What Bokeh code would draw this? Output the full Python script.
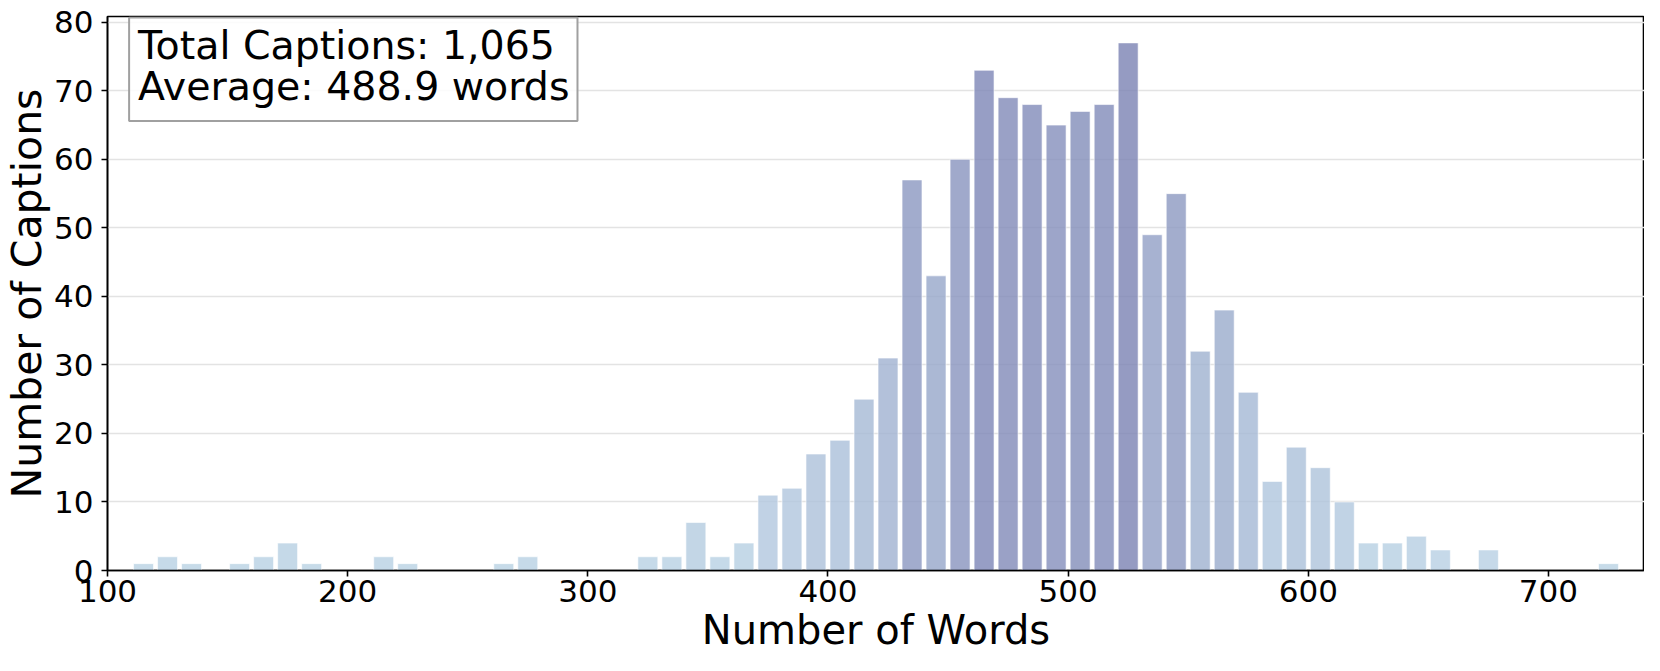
from bokeh.plotting import figure
from bokeh.models import ColumnDataSource, Range1d, Label, FixedTicker
from bokeh.embed import file_html
from bokeh.resources import INLINE

# ---- data ----
bin_left = list(range(110, 730, 10))       # bin edges (width 10 words)
bin_width = 10
counts = [1, 2, 1, 0, 1, 2, 4, 1, 0, 0,
          2, 1, 0, 0, 0, 1, 2, 0, 0, 0,
          0, 2, 2, 7, 2, 4, 11, 12, 17, 19,
          25, 31, 57, 43, 60, 73, 69, 68, 65, 67,
          68, 77, 49, 55, 32, 38, 26, 13, 18, 15,
          10, 4, 4, 5, 3, 0, 3, 0, 0, 0,
          0, 1]
x_ticks = [100, 200, 300, 400, 500, 600, 700]
y_ticks = [0, 10, 20, 30, 40, 50, 60, 70, 80]
total_captions = "1,065"
average_words = "488.9"

# ---- colours: height-mapped gradient (light blue -> slate purple) ----
low = (186, 211, 229)
high = (122, 130, 179)
vmax = max(counts)
def cmap(v):
    f = v / vmax
    r, g, b = (int(round(low[i] + (high[i] - low[i]) * f)) for i in range(3))
    return "#%02x%02x%02x" % (r, g, b)

centers = [b + bin_width / 2 for b in bin_left]
colors = [cmap(c) for c in counts]
src = ColumnDataSource(dict(x=centers, top=counts, color=colors))

FONT = "DejaVu Sans"

p = figure(width=1644, height=655, output_backend="svg", toolbar_location=None,
           x_range=Range1d(100, 740), y_range=Range1d(0, 80.85),
           min_border_left=90, min_border_right=0, min_border_top=16, min_border_bottom=80)

p.vbar(x="x", top="top", bottom=0, width=8.3, source=src,
       fill_color="color", fill_alpha=0.8,
       line_color="white", line_width=1, line_alpha=0.6)

p.outline_line_color = "black"
p.outline_line_width = 1.6
p.background_fill_color = "white"
p.border_fill_color = "white"

p.xgrid.visible = False
p.ygrid.grid_line_color = "#e3e3e3"
p.ygrid.grid_line_width = 1.5
p.ygrid.ticker = FixedTicker(ticks=y_ticks)

for ax, ticks in ((p.xaxis[0], x_ticks), (p.yaxis[0], y_ticks)):
    ax.ticker = FixedTicker(ticks=ticks)
    ax.minor_tick_line_color = None
    ax.major_tick_in = 0
    ax.major_tick_out = 6
    ax.major_tick_line_width = 1.6
    ax.major_tick_line_color = "black"
    ax.axis_line_width = 1.6
    ax.axis_line_color = "black"
    ax.major_label_text_font = FONT
    ax.major_label_text_font_size = "31px"
    ax.major_label_text_color = "black"
    ax.axis_label_text_font = FONT
    ax.axis_label_text_font_style = "normal"
    ax.axis_label_text_color = "black"

p.xaxis.axis_label = "Number of Words"
p.yaxis.axis_label = "Number of Captions"
p.xaxis.axis_label_text_font_size = "40px"
p.yaxis.axis_label_text_font_size = "41px"
p.xaxis.major_label_standoff = 3
p.yaxis.major_label_standoff = 8
p.xaxis.axis_label_standoff = 2
p.yaxis.axis_label_standoff = 0

info = Label(x=109, y=80.7, x_units="data", y_units="data",
             text="Total Captions: %s\nAverage: %s words" % (total_captions, average_words),
             text_font=FONT, text_font_size="39.5px", text_color="black",
             text_line_height=0.9,
             anchor="top_left",
             border_line_color="#a0a0a0", border_line_width=2,
             background_fill_color="white", background_fill_alpha=0.85,
             padding=dict(left=9, right=8, top=4, bottom=12))
p.add_layout(info)

open("out.html", "w").write(file_html(p, INLINE))
